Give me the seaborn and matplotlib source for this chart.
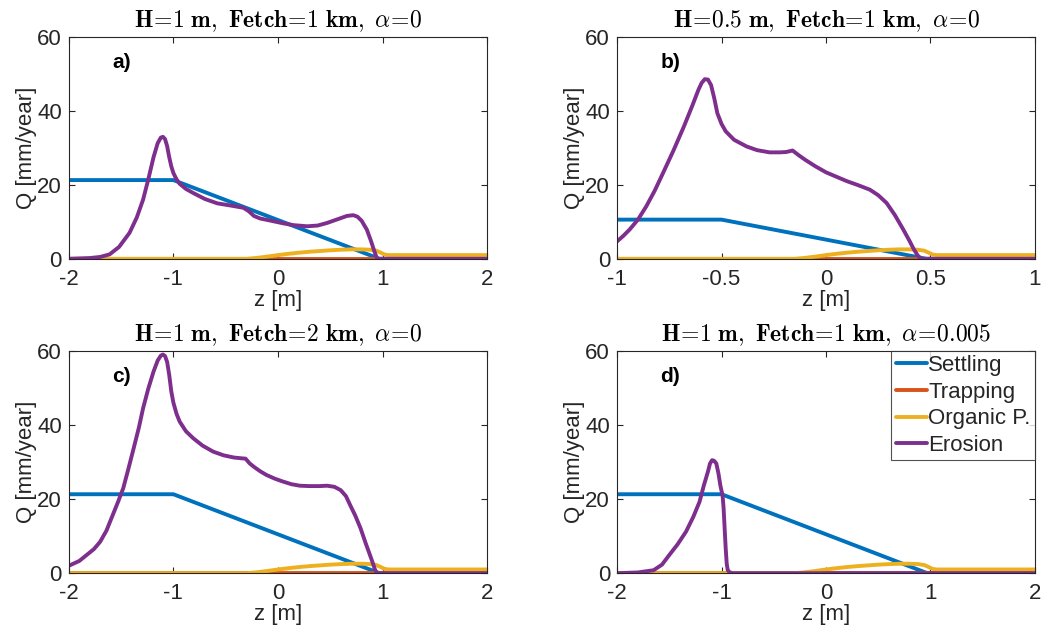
import numpy as np
import pandas as pd
import matplotlib
matplotlib.use("Agg")
import matplotlib.pyplot as plt
import seaborn as sns

# ---- data -----------------------------------------------------------------
series_names = ["Settling", "Trapping", "Organic P.", "Erosion"]
series_colors = ["#0072BD", "#D95319", "#EDB120", "#7E2F8E"]

panel_titles = [
    r"$\mathbf{H\!=\!1\ m,\ Fetch\!=\!1\ km,}\ \alpha\!=\!\mathbf{0}$",
    r"$\mathbf{H\!=\!0.5\ m,\ Fetch\!=\!1\ km,}\ \alpha\!=\!\mathbf{0}$",
    r"$\mathbf{H\!=\!1\ m,\ Fetch\!=\!2\ km,}\ \alpha\!=\!\mathbf{0}$",
    r"$\mathbf{H\!=\!1\ m,\ Fetch\!=\!1\ km,}\ \alpha\!=\!\mathbf{0.005}$",
]
panel_tags = ["a)", "b)", "c)", "d)"]
x_limits = [(-2, 2), (-1, 1), (-2, 2), (-2, 2)]
x_ticks = [[-2, -1, 0, 1, 2], [-1, -0.5, 0, 0.5, 1], [-2, -1, 0, 1, 2], [-2, -1, 0, 1, 2]]
x_ticklabels = [["-2", "-1", "0", "1", "2"], ["-1", "-0.5", "0", "0.5", "1"],
                ["-2", "-1", "0", "1", "2"], ["-2", "-1", "0", "1", "2"]]
y_ticks = [0, 20, 40, 60]

# settling (H = 1 m and H = 0.5 m)
settle_z_1m = [-2.0, -1.0, 0.97, 2.0]
settle_q_1m = [21.3, 21.3, 0.0, 0.0]
settle_z_05m = [-1.0, -0.5, 0.48, 1.0]
settle_q_05m = [10.6, 10.6, 0.0, 0.0]

# trapping (zero everywhere)
trap_z_1m = [-2.0, 2.0]
trap_z_05m = [-1.0, 1.0]
trap_q = [0.0, 0.0]

# organic production
org_z_1m = [-2.0, -0.3, -0.2, -0.1, 0.0, 0.1, 0.2, 0.3, 0.4, 0.5, 0.6, 0.7,
            0.8, 0.88, 0.94, 0.98, 1.02, 1.06, 2.0]
org_q_1m = [0.0, 0.0, 0.25, 0.6, 1.0, 1.35, 1.65, 1.9, 2.1, 2.3, 2.45, 2.55,
            2.55, 2.45, 2.2, 1.7, 1.15, 1.0, 1.0]
org_z_05m = [-1.0, -0.15, -0.1, -0.05, 0.0, 0.05, 0.1, 0.15, 0.2, 0.25, 0.3, 0.35,
             0.4, 0.44, 0.47, 0.49, 0.51, 0.53, 1.0]
org_q_05m = org_q_1m

# erosion, panel a
ero_z_a = [-2.0, -1.8, -1.7, -1.61, -1.52, -1.42, -1.35, -1.29, -1.24, -1.19, -1.15,
           -1.12, -1.1, -1.08, -1.06, -1.04, -1.02, -1.0, -0.97, -0.94, -0.88, -0.81,
           -0.7, -0.58, -0.45, -0.33, -0.28, -0.23, -0.17, -0.1, 0.05, 0.15, 0.28,
           0.38, 0.47, 0.57, 0.66, 0.72, 0.76, 0.8, 0.85, 0.89, 0.92, 0.94, 0.95, 2.0]
ero_q_a = [0.0, 0.2, 0.5, 1.2, 3.2, 7.0, 11.2, 16.0, 21.5, 27.5, 31.3,
           32.8, 33.0, 32.4, 30.5, 27.5, 25.0, 23.2, 21.5, 20.3, 18.9, 17.8,
           16.2, 15.0, 14.4, 13.8, 12.9, 11.6, 10.9, 10.5, 9.6, 9.1, 8.8,
           9.0, 9.7, 10.7, 11.6, 11.8, 11.4, 10.3, 7.9, 4.8, 2.2, 0.6, 0.0, 0.0]

# erosion, panel b
ero_z_b = [-1.0, -0.97, -0.94, -0.9, -0.86, -0.82, -0.78, -0.73, -0.68, -0.64,
           -0.61, -0.595, -0.58, -0.565, -0.55, -0.535, -0.52, -0.5, -0.48, -0.44,
           -0.38, -0.33, -0.27, -0.22, -0.19, -0.16, -0.13, -0.1, -0.05, 0.0, 0.05,
           0.1, 0.15, 0.21, 0.25, 0.29, 0.33, 0.37, 0.4, 0.42, 0.44, 0.455, 1.0]
ero_q_b = [4.7, 6.2, 7.9, 10.6, 14.2, 18.4, 23.2, 29.3, 35.8, 41.4,
           45.8, 47.6, 48.6, 48.5, 47.0, 43.5, 39.4, 36.5, 34.5, 32.2,
           30.4, 29.4, 28.8, 28.8, 28.9, 29.3, 28.0, 26.8, 25.0, 23.4, 22.2,
           21.0, 20.0, 18.7, 17.2, 15.1, 11.8, 7.9, 4.8, 2.6, 0.8, 0.0, 0.0]

# erosion, panel c
ero_z_c = [-2.0, -1.9, -1.83, -1.76, -1.7, -1.64, -1.58, -1.53, -1.48, -1.43, -1.38,
           -1.33, -1.29, -1.24, -1.19, -1.15, -1.12, -1.1, -1.08, -1.06, -1.04,
           -1.02, -1.0, -0.97, -0.94, -0.88, -0.81, -0.72, -0.62, -0.52, -0.42,
           -0.35, -0.31, -0.27, -0.23, -0.17, -0.11, -0.03, 0.05, 0.13, 0.21,
           0.3, 0.4, 0.47, 0.54, 0.6, 0.65, 0.69, 0.74, 0.79, 0.84, 0.88, 0.91,
           0.93, 0.95, 2.0]
ero_q_c = [2.0, 3.3, 4.9, 6.5, 8.5, 11.5, 15.7, 19.2, 22.9, 28.2, 33.7,
           39.3, 44.5, 49.8, 54.4, 57.4, 58.7, 59.0, 58.6, 57.0, 53.5,
           49.0, 46.0, 43.0, 40.9, 38.3, 36.4, 34.4, 32.8, 31.8, 31.2,
           31.0, 30.9, 29.6, 28.7, 27.5, 26.5, 25.5, 24.7, 24.0, 23.6,
           23.5, 23.5, 23.6, 23.3, 22.4, 20.8, 18.4, 15.5, 12.1, 8.0, 4.9, 2.5,
           0.8, 0.0, 0.0]

# erosion, panel d
ero_z_d = [-2.0, -1.8, -1.65, -1.57, -1.5, -1.42, -1.34, -1.27, -1.21, -1.17,
           -1.13, -1.11, -1.09, -1.07, -1.05, -1.03, -1.01, -0.99, -0.98, -0.97,
           -0.96, -0.95, -0.94, -0.92, -0.89, 2.0]
ero_q_d = [0.0, 0.2, 0.8, 2.3, 4.9, 7.8, 11.2, 15.2, 19.3, 23.6,
           27.4, 29.6, 30.5, 30.3, 29.6, 27.0, 23.5, 21.0, 17.5, 12.0,
           6.7, 2.5, 0.8, 0.2, 0.0, 0.0]

panel_series = [
    [(settle_z_1m, settle_q_1m), (trap_z_1m, trap_q), (org_z_1m, org_q_1m), (ero_z_a, ero_q_a)],
    [(settle_z_05m, settle_q_05m), (trap_z_05m, trap_q), (org_z_05m, org_q_05m), (ero_z_b, ero_q_b)],
    [(settle_z_1m, settle_q_1m), (trap_z_1m, trap_q), (org_z_1m, org_q_1m), (ero_z_c, ero_q_c)],
    [(settle_z_1m, settle_q_1m), (trap_z_1m, trap_q), (org_z_1m, org_q_1m), (ero_z_d, ero_q_d)],
]

# ---- style ----------------------------------------------------------------
sns.set_theme(style="ticks")
plt.rcParams["font.family"] = ["Liberation Sans", "DejaVu Sans"]
plt.rcParams["mathtext.fontset"] = "cm"
edge = "#262626"
fs = 16

fig = plt.figure(figsize=(10.43, 6.39), dpi=100)
positions = [
    [0.066, 0.595, 0.401, 0.347],
    [0.5916, 0.595, 0.4007, 0.347],
    [0.066, 0.103, 0.401, 0.348],
    [0.5916, 0.103, 0.4007, 0.348],
]

for i in range(4):
    ax = fig.add_axes(positions[i])
    rows = []
    for name, (zs, qs) in zip(series_names, panel_series[i]):
        for k, (z, q) in enumerate(zip(zs, qs)):
            rows.append({"z": z, "Q": q, "series": name, "order": k})
    df = pd.DataFrame(rows)
    sns.lineplot(data=df, x="z", y="Q", hue="series", hue_order=series_names,
                 palette=series_colors, sort=False, estimator=None, units="series",
                 linewidth=2.8, ax=ax, legend=(i == 3))

    ax.set_xlim(*x_limits[i])
    ax.set_ylim(0, 60)
    ax.set_xticks(x_ticks[i])
    ax.set_xticklabels(x_ticklabels[i])
    ax.set_yticks(y_ticks)
    ax.tick_params(direction="in", length=4, width=0.8, top=True, right=True,
                   labelsize=fs, colors=edge)
    ax.tick_params(axis="x", pad=7)
    ax.tick_params(axis="y", pad=5)
    for s in ax.spines.values():
        s.set_visible(True)
        s.set_color(edge)
        s.set_linewidth(0.8)
    ax.set_xlabel("z [m]", fontsize=fs, color=edge, labelpad=0)
    ax.set_ylabel("Q [mm/year]", fontsize=fs, color=edge, labelpad=0)
    ax.set_title(panel_titles[i], fontsize=17, color="black", pad=7)
    ax.text(0.103, 0.885, panel_tags[i], transform=ax.transAxes, fontsize=15,
            fontweight="bold", va="center", ha="left", color="black")

    if i == 3:
        leg = ax.legend(loc="upper right", fontsize=fs, frameon=True, fancybox=False,
                        borderaxespad=0.0, handlelength=1.4, handletextpad=0.05,
                        borderpad=0.2, labelspacing=0.25)
        leg.get_frame().set_edgecolor(edge)
        leg.get_frame().set_linewidth(0.8)
        for line in leg.get_lines():
            line.set_linewidth(2.8)

fig.savefig("out.png", dpi=100, facecolor="white")
